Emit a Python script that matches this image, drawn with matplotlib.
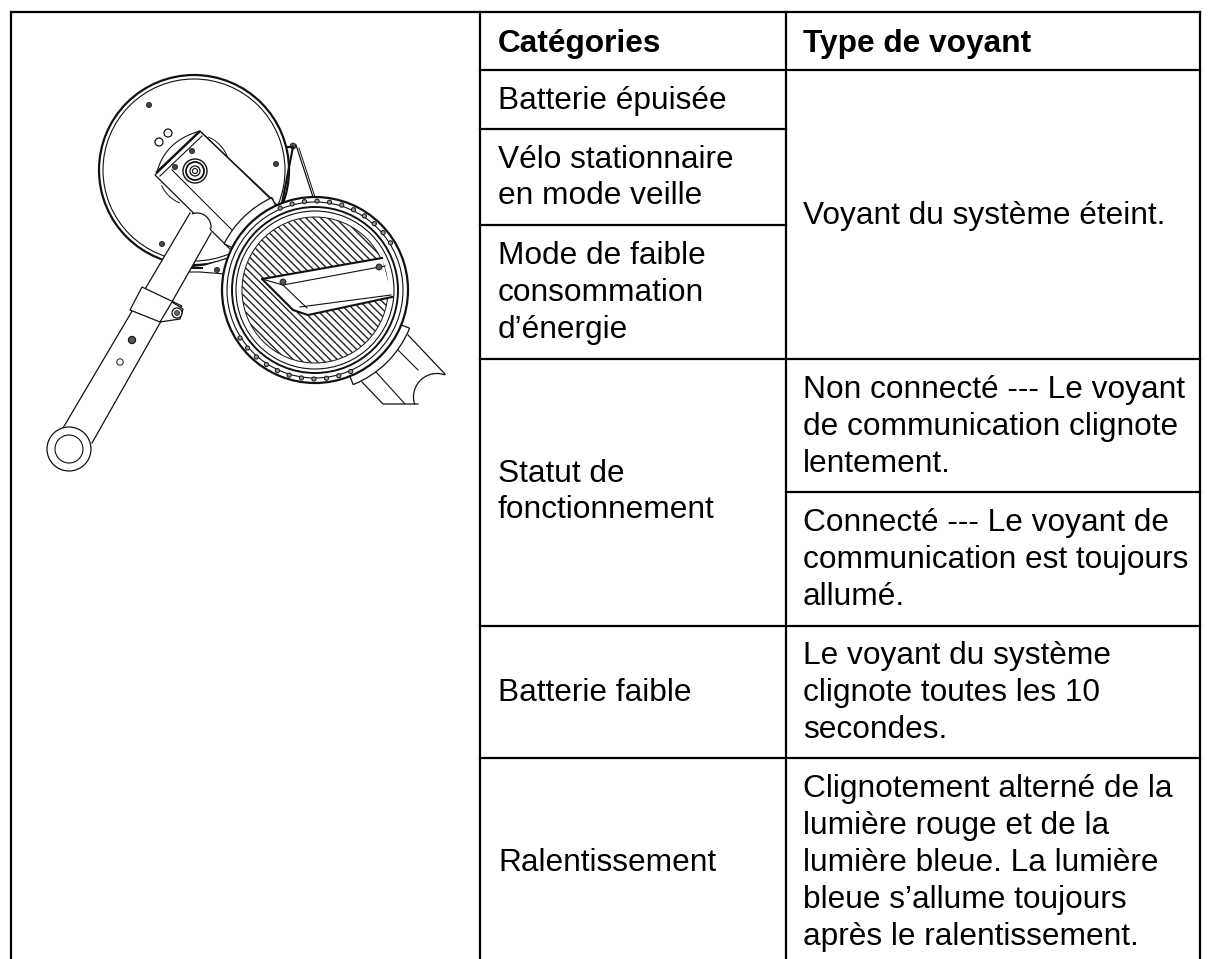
import numpy as np
import matplotlib
matplotlib.use("Agg")
import matplotlib.pyplot as plt
from matplotlib.patches import Circle, Polygon, Wedge

plt.rcParams['font.family'] = ['Liberation Sans', 'DejaVu Sans']

# Table text
headers = ["Catégories", "Type de voyant"]
categories = ["Batterie épuisée", "Vélo stationnaire\nen mode veille",
              "Mode de faible\nconsommation\nd’énergie", "Statut de\nfonctionnement",
              "Batterie faible", "Ralentissement"]
cat_y = [98, 175, 290, 489, 690, 860]
types = ["Voyant du système éteint.",
         "Non connecté --- Le voyant\nde communication clignote\nlentement.",
         "Connecté --- Le voyant de\ncommunication est toujours\nallumé.",
         "Le voyant du système\nclignote toutes les 10\nsecondes.",
         "Clignotement alterné de la\nlumière rouge et de la\nlumière bleue. La lumière\nbleue s’allume toujours\naprès le ralentissement."]
type_y = [213, 424, 557, 690, 860]

# Table rules (pixels)
col_x = [11, 480, 786, 1200]
row_full = [12]
row_left = [70, 359, 626, 758]
row_cat = [129, 225]
row_type = [492]

# Drawing: wheel and arm outlines (pixels)
disc = (194, 170, 95)
ring = (315, 290, 93)
ring_radii = [(88, 0.8), (83, 1.4), (79, 0.8), (73, 0.7)]
bolts_disc = [(149, 105), (276, 164), (162, 244)]
motor = [(155, 175), (200, 131), (280, 208), (233, 252)]
plate = [(262, 279), (382, 258), (392, 297), (308, 315), (293, 310)]

fig = plt.figure(figsize=(12.12, 9.59), dpi=100)
ax = fig.add_axes([0, 0, 1, 1])
ax.set_xlim(0, 1212)
ax.set_ylim(959, 0)
ax.axis("off")

lc = "#111111"

# back disc
ax.add_patch(Circle(disc[:2], disc[2], fc="white", ec=lc, lw=1.6))
ax.add_patch(Circle(disc[:2], disc[2] - 4, fc="white", ec=lc, lw=0.8))
for b in bolts_disc:
    ax.add_patch(Circle(b, 2.6, fc="#444444", ec=lc, lw=0.5))

# strut
ax.plot([282, 293, 287], [203, 147, 147], color=lc, lw=1.5)
ax.plot([296, 313], [145, 197], color=lc, lw=0.9)
ax.plot([299, 315], [148, 197], color=lc, lw=0.7)
ax.add_patch(Circle((293, 146), 3, fc="#555555", ec=lc, lw=0.5))

# lower bracket
ax.add_patch(Polygon([(188, 267), (205, 265), (228, 258), (225, 274), (200, 272), (188, 272)],
                     fc="white", ec=lc, lw=0.8))
ax.plot([190, 202], [268, 268], color=lc, lw=1.5)
ax.add_patch(Circle((217, 270), 2.6, fc="#444444", ec=lc, lw=0.5))

# motor body
ax.add_patch(Polygon(motor, fc="white", ec=lc, lw=0.9))
for a0, a1 in [(-66, -21), (114, 154)]:
    t = np.radians(np.linspace(a0, a1, 20))
    ax.plot(disc[0] + 36 * np.cos(t), disc[1] + 36 * np.sin(t), color=lc, lw=0.7)
u = np.linspace(0, 1, 20)
ax.plot((1 - u) ** 2 * 157 + 2 * u * (1 - u) * 165 + u ** 2 * 200,
        (1 - u) ** 2 * 172 + 2 * u * (1 - u) * 141 + u ** 2 * 131, color=lc, lw=0.8)
ax.plot([172, 232], [170, 230], color=lc, lw=0.8)
ax.plot([202, 273], [133, 200], color=lc, lw=0.8)
ax.plot([157, 199], [172, 132], color=lc, lw=1.7)
ax.plot([160, 202], [176, 136], color=lc, lw=0.8)
for r, w in [(12, 1.0), (9, 1.3), (5, 0.9), (2.5, 0.8)]:
    ax.add_patch(Circle((195, 171), r, fc="none", ec=lc, lw=w))
for b in [(175, 167), (192, 151)]:
    ax.add_patch(Circle(b, 2.6, fc="#444444", ec=lc, lw=0.5))
for b in [(159, 142), (168, 133)]:
    ax.add_patch(Circle(b, 4, fc="white", ec=lc, lw=0.9))
ax.add_patch(Wedge(ring[:2], 102, 207, 245, width=9, fc="white", ec=lc, lw=0.9))

# arm
ax.add_patch(Polygon([(190, 213), (205, 215), (211, 233), (92, 443), (63, 428)], fc="white", ec="none", zorder=2))
ax.plot([190, 63], [213, 428], color=lc, lw=0.9, zorder=3)
ax.plot([211, 92], [233, 443], color=lc, lw=0.9, zorder=3)
t = np.linspace(-1.9, 0.1, 30)
ax.plot(197 + 14 * np.cos(t), 227 + 14 * np.sin(t), color=lc, lw=0.9, zorder=3)
ax.add_patch(Polygon([(142, 287), (182, 306), (160, 322), (130, 310)], fc="white", ec=lc, lw=0.9, zorder=3))
ax.add_patch(Polygon([(172, 302), (183, 309), (180, 319), (160, 322)], fc="white", ec=lc, lw=0.9, zorder=3))
ax.add_patch(Circle((177, 313), 5, fc="white", ec=lc, lw=0.9, zorder=4))
ax.add_patch(Circle((177, 313), 2.5, fc="#666666", ec=lc, lw=0.5, zorder=4))
ax.add_patch(Circle((132, 340), 3.6, fc="#555555", ec=lc, lw=0.8, zorder=4))
ax.add_patch(Circle((120, 362), 3.2, fc="white", ec=lc, lw=0.7, zorder=4))
ax.add_patch(Circle((69, 449), 22, fc="white", ec=lc, lw=0.9, zorder=4))
ax.add_patch(Circle((69, 449), 14, fc="white", ec=lc, lw=0.8, zorder=4))

# lower tube behind the ring
ax.plot([362, 383, 418], [382, 404, 404], color=lc, lw=0.9)
ax.plot([408, 445], [335, 374], color=lc, lw=0.9)
ax.plot([376, 405], [372, 404], color=lc, lw=0.8)
ax.plot([398, 418], [350, 370], color=lc, lw=0.8)
t = np.linspace(-1.24, -3.45, 30)
ax.plot(437 + 23.5 * np.cos(t), 397 + 23.5 * np.sin(t), color=lc, lw=0.9)
ax.add_patch(Wedge(ring[:2], 102, 22, 68, width=9, fc="white", ec=lc, lw=0.9))

# ring
ax.add_patch(Circle(ring[:2], ring[2], fc="white", ec=lc, lw=1.6, zorder=5))
inner = None
for r, w in ring_radii:
    inner = Circle(ring[:2], r, fc="white", ec=lc, lw=w, zorder=5)
    ax.add_patch(inner)

# hatch lines across the inner disc
for c in np.arange(-75, 76, 5.2):
    s = np.array([-120, 120])
    ln, = ax.plot(ring[0] + (s + c) * 0.7071, ring[1] + (s - c) * 0.7071, color="#222222", lw=1.0, zorder=6)
    ln.set_clip_path(inner)

# ring bolts
for a in list(np.arange(32, 114, 8.1)) + list(np.arange(212.6, 294, 8.1)):
    x = ring[0] + 89 * np.cos(np.radians(a))
    y = ring[1] - 89 * np.sin(np.radians(a))
    ax.add_patch(Circle((x, y), 2.1, fc="#999999", ec=lc, lw=0.7, zorder=7))

# plate in the middle, open on the right side
ax.add_patch(Polygon(plate, fc="white", ec="none", zorder=8))
px, py = zip(*(plate[2:] + plate[:2]))
ax.plot(px, py, color=lc, lw=1.5, zorder=8)
ax.plot([262, 283, 307], [279, 285, 308], color=lc, lw=0.8, zorder=8)
ax.plot([283, 385], [285, 266], color=lc, lw=0.8, zorder=8)
ax.plot([300, 391], [307, 295], color=lc, lw=0.8, zorder=8)
for b in [(283, 282), (379, 267)]:
    ax.add_patch(Circle(b, 3, fc="#555555", ec=lc, lw=0.6, zorder=9))

# table
lw_t = 1.6
ax.plot([col_x[0], col_x[3]], [row_full[0]] * 2, color="black", lw=lw_t, zorder=10)
for x in col_x:
    ax.plot([x, x], [12, 959], color="black", lw=lw_t, zorder=10)
for y in row_left:
    ax.plot([col_x[1], col_x[3]], [y, y], color="black", lw=lw_t, zorder=10)
for y in row_cat:
    ax.plot([col_x[1], col_x[2]], [y, y], color="black", lw=lw_t, zorder=10)
for y in row_type:
    ax.plot([col_x[2], col_x[3]], [y, y], color="black", lw=lw_t, zorder=10)

fs = 22.8
dy = 3
ax.text(498, 41 + dy, headers[0], fontsize=fs, fontweight="bold", va="center", color="black")
ax.text(803, 41 + dy, headers[1], fontsize=fs, fontweight="bold", va="center", color="black")
for s, y in zip(categories, cat_y):
    ax.text(498, y + dy, s, fontsize=fs, va="center", linespacing=1.3, color="black")
for s, y in zip(types, type_y):
    ax.text(803, y + dy, s, fontsize=fs, va="center", linespacing=1.3, color="black")

fig.savefig("out.png", dpi=100)
